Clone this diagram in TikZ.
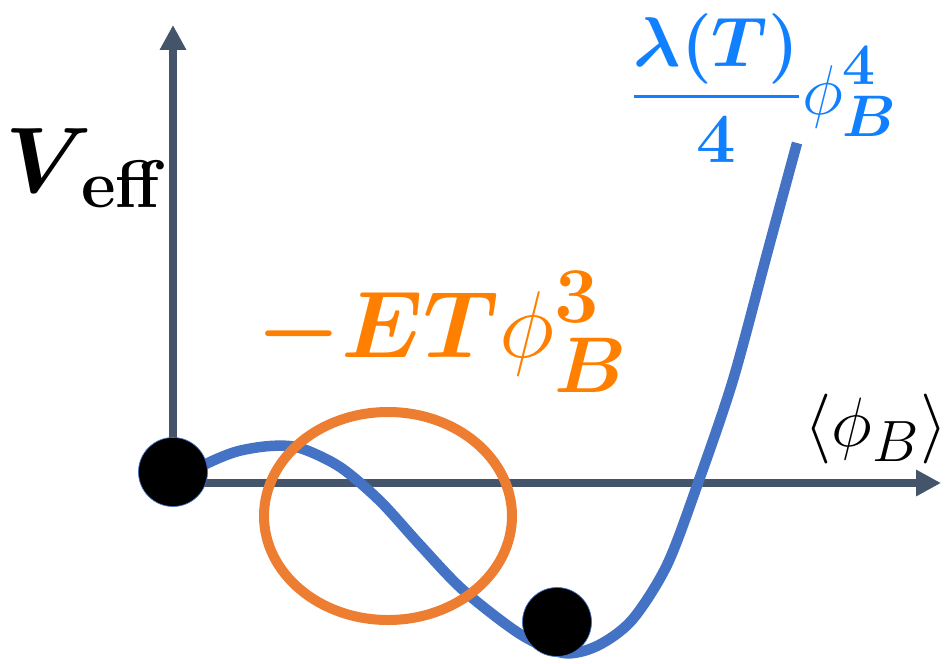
\documentclass[tikz,border=0pt]{standalone}
\usepackage{amsmath}
\usepackage{amssymb}
\usetikzlibrary{arrows.meta,positioning}
\definecolor{axisGray}{RGB}{68,84,106}
\definecolor{curveBlue}{RGB}{68,114,196}
\definecolor{ringOrange}{RGB}{237,125,49}
\definecolor{termBlue}{RGB}{17,128,255}
\definecolor{termOrange}{RGB}{255,128,0}

\begin{document}
\begin{tikzpicture}[x=0.02cm,y=-0.02cm,>={Triangle[length=0.5cm,width=0.5cm]},
  axis/.style={axisGray,line width=0.16cm,->},
  ball/.style={circle,fill=black,draw=curveBlue,line width=0.4pt,minimum size=1.38cm,inner sep=0pt},
  term/.style={anchor=base west,inner sep=0pt,font=\Huge}]
  \useasboundingbox (0,0) rectangle (946,663);
  % axes
  \coordinate (O) at (173,483);
  \coordinate (yTip) at (173,25);
  \coordinate (xTip) at (941,483);
  \draw[axis] (O) -- (yTip);
  \draw[axis] (O) -- (xTip);
  % potential
  \draw[curveBlue,line width=0.21cm] plot[smooth] coordinates {
    (175,485) (200,467) (235,452) (270,446) (300,448) (340,467) (380,501)
    (420,545) (463,590) (520,634) (563,653) (597,646) (632,620) (667,565)
    (698,483) (733,380) (768,250) (797,143)};
  \draw[ringOrange,line width=0.2cm] (388,516) ellipse [x radius=124,y radius=104];
  \node[ball] (falseVac) at (173,472) {};
  \node[ball] (trueVac) at (557,622) {};
  % labels
  \node[term,scale=2.13] (veff) at (5,192)
    {$\boldsymbol{V}_{\kern-3pt\mbox{\fontsize{18}{20}\selectfont\bfseries eff}}$};
  \node[term,scale=2.17,text=termOrange] (cubic) at (256,357)
    {$\boldsymbol{-ET}\phi_{\boldsymbol{B}}^{\mathbf{3}}$};
  \node[term,scale=1.61,text=termBlue] (quartic) at (630,114)
    {$\displaystyle\frac{\boldsymbol{\lambda(T)}}{\mathbf{4}}\phi_{\boldsymbol{B}}^{\mathbf{4}}$};
  \node[term,scale=1.6] (field) at (804,446) {$\langle\phi_{B}\rangle$};
\end{tikzpicture}
\end{document}
